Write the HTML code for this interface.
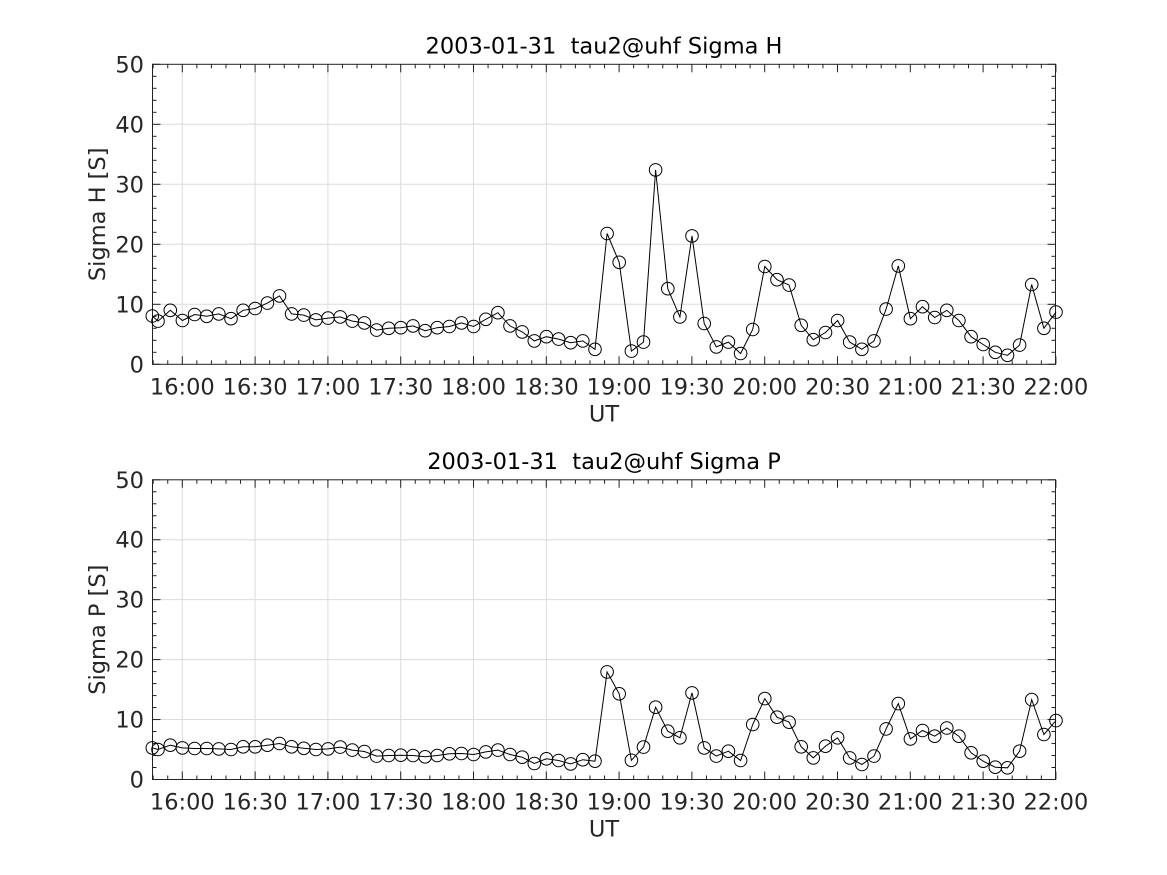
<!DOCTYPE html>
<html><head><meta charset="utf-8"><style>
html,body{margin:0;padding:0;background:#fff;}
svg{display:block;font-family:"DejaVu Sans","Liberation Sans",sans-serif;}
</style></head><body>
<svg id="s" width="1167" height="875" viewBox="0 0 1167 875" xmlns="http://www.w3.org/2000/svg"></svg>
<script>
var H=[8.05,7.2,9.0,7.3,8.3,8.0,8.4,7.6,9.0,9.3,10.2,11.4,8.4,8.2,7.4,7.7,7.9,7.2,6.9,5.7,6.0,6.1,6.4,5.6,6.1,6.3,6.9,6.3,7.5,8.6,6.4,5.4,3.9,4.6,4.2,3.6,3.9,2.5,
21.8,17.0,2.2,3.7,32.4,12.6,7.9,21.4,6.8,2.9,3.7,1.8,5.8,16.3,14.1,13.2,6.5,4.1,5.3,7.3,3.7,2.5,3.9,9.2,16.4,7.6,9.6,7.8,9.0,7.3,4.6,3.3,2.0,1.5,3.2,13.3,6.0,8.7];
var P=[5.28,5.0,5.72,5.28,5.17,5.17,5.1,5.0,5.45,5.45,5.72,6.0,5.45,5.2,5.0,5.1,5.4,4.9,4.67,3.9,4.0,4.06,4.0,3.78,4.0,4.28,4.33,4.17,4.6,4.9,4.17,3.72,2.67,3.45,3.17,2.6,3.3,3.05,
17.95,14.3,3.2,5.4,12.06,8.06,6.95,14.45,5.28,3.9,4.72,3.17,9.17,13.5,10.4,9.56,5.45,3.6,5.56,6.95,3.6,2.5,3.9,8.45,12.67,6.78,8.17,7.22,8.6,7.22,4.45,3.05,2.06,1.95,4.72,13.33,7.5,9.83];
function X(i){return i==0?152.3:(i==1?158:170.3+12.133*(i-2));}
var L=152.5,R=1055.5,out='',FS=22.5;
function panel(data,top,bot,title,ylab){
  var s=(bot-top)/50,o='';
  for(var k=0;k<6;k++){var gx=182.3+72.8*k;o+='<line x1="'+gx+'" y1="'+top+'" x2="'+gx+'" y2="'+bot+'" stroke="#dcdcdc" stroke-width="1"/>';}
  for(var v=10;v<50;v+=10){var gy=bot-v*s;o+='<line x1="'+L+'" y1="'+gy+'" x2="'+R+'" y2="'+gy+'" stroke="#dcdcdc" stroke-width="1"/>';}
  for(var v=0;v<=50;v+=2){var gy=bot-v*s,len=(v%10==0)?8:4;
    o+='<line x1="'+L+'" y1="'+gy+'" x2="'+(L+len)+'" y2="'+gy+'" stroke="#222"/>';
    o+='<line x1="'+R+'" y1="'+gy+'" x2="'+(R-len)+'" y2="'+gy+'" stroke="#222"/>';
    if(v%10==0)o+='<text x="144" y="'+(gy+8)+'" font-size="'+FS+'" text-anchor="end" fill="#262626">'+v+'</text>';}
  var labs=['16:00','16:30','17:00','17:30','18:00','18:30','19:00','19:30','20:00','20:30','21:00','21:30','22:00'];
  for(var m=-2;m<=60;m++){var gx=182.3+14.56*m;if(gx<L||gx>R+1)continue;var len=(m%5==0)?8:4;
    o+='<line x1="'+gx+'" y1="'+bot+'" x2="'+gx+'" y2="'+(bot-len)+'" stroke="#222"/>';
    o+='<line x1="'+gx+'" y1="'+top+'" x2="'+gx+'" y2="'+(top+len)+'" stroke="#222"/>';
    if(m>=0&&m%5==0)o+='<text x="'+gx+'" y="'+(bot+30)+'" font-size="'+FS+'" text-anchor="middle" fill="#262626">'+labs[m/5]+'</text>';}
  o+='<rect x="'+L+'" y="'+top+'" width="'+(R-L)+'" height="'+(bot-top)+'" fill="none" stroke="#222" stroke-width="1"/>';
  var pts=data.map(function(d,i){return X(i).toFixed(1)+','+(bot-d*s).toFixed(1);});
  o+='<polyline points="'+pts.join(' ')+'" fill="none" stroke="#000" stroke-width="1"/>';
  data.forEach(function(d,i){o+='<circle cx="'+X(i).toFixed(1)+'" cy="'+(bot-d*s).toFixed(1)+'" r="6.3" fill="none" stroke="#000" stroke-width="1"/>';});
  o+='<text x="604" y="'+(top-11)+'" font-size="'+FS+'" text-anchor="middle" fill="#000">'+title+'</text>';
  o+='<text x="604" y="'+(bot+57)+'" font-size="'+FS+'" text-anchor="middle" fill="#262626">UT</text>';
  var cy=(top+bot)/2;
  o+='<text x="105" y="'+cy+'" font-size="'+FS+'" text-anchor="middle" fill="#262626" transform="rotate(-90 105 '+cy+')">'+ylab+'</text>';
  return o;
}
out+=panel(H,64.3,364.3,'2003-01-31&#160; tau2@uhf Sigma H','Sigma H [S]');
out+=panel(P,479.8,779.5,'2003-01-31&#160; tau2@uhf Sigma P','Sigma P [S]');
document.getElementById('s').innerHTML=out;
</script>
</body></html>
